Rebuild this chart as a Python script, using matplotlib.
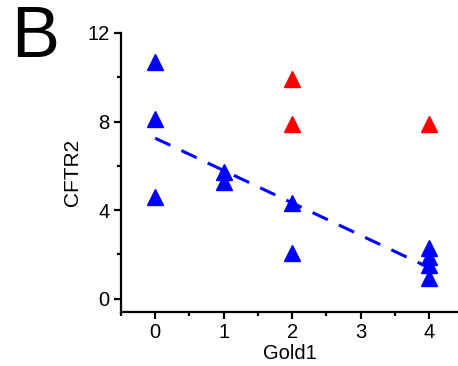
import matplotlib
matplotlib.use("Agg")
import matplotlib.pyplot as plt
from matplotlib.ticker import MultipleLocator

plt.rcParams['font.family'] = ['Liberation Sans', 'DejaVu Sans']

blue_x = [0, 0, 0, 1, 1, 2, 2, 4, 4, 4, 4]
blue_y = [10.7, 8.1, 4.6, 5.73, 5.28, 4.31, 2.06, 2.28, 1.9, 1.53, 0.93]
red_x = [2, 2, 4]
red_y = [9.9, 7.9, 7.88]
fit_x = [0, 4]
fit_y = [7.25, 1.4]

fig = plt.figure(figsize=(4.58, 3.66), dpi=100)
ax = fig.add_axes([0.264, 0.1475, 0.736, 0.7625])

ax.plot(fit_x, fit_y, color='#0000ff', lw=2.2, dashes=(5.5, 4), zorder=2)
ax.plot(blue_x, blue_y, linestyle='none', marker='^', ms=11, color='#0000ff', mec='#0000ff', zorder=3)
ax.plot(red_x, red_y, linestyle='none', marker='^', ms=11, color='#ff0000', mec='#ff0000', zorder=3)

ax.set_xlim(-0.5, 4.42)
ax.set_ylim(-0.6, 12)
ax.xaxis.set_major_locator(MultipleLocator(1))
ax.xaxis.set_minor_locator(MultipleLocator(0.5))
ax.yaxis.set_major_locator(MultipleLocator(4))
ax.yaxis.set_minor_locator(MultipleLocator(2))

for s in ['top', 'right']:
    ax.spines[s].set_visible(False)
for s in ['left', 'bottom']:
    ax.spines[s].set_linewidth(1.6)
ax.spines['left'].set_bounds(-0.6, 12)

ax.tick_params(which='major', direction='out', length=5, width=1.6, labelsize=14.5, pad=3)
ax.tick_params(which='minor', direction='out', length=3, width=1.6)

ax.set_xlabel('Gold1', fontsize=14.5, labelpad=1)
ax.set_ylabel('CFTR2', fontsize=15, labelpad=4)

fig.text(0.025, 0.985, 'B', fontsize=52, va='top', ha='left')

fig.savefig('out.png', dpi=100)
